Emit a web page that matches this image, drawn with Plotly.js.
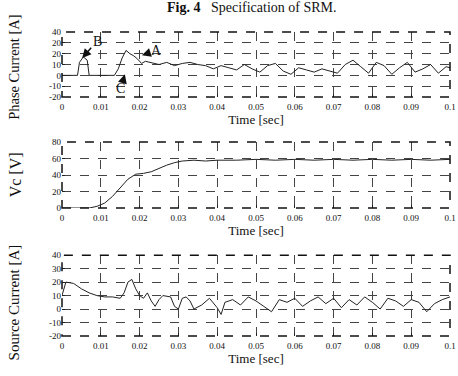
<!DOCTYPE html>
<html><head><meta charset="utf-8">
<script src="https://cdn.plot.ly/plotly-3.0.1.min.js"></script>
<style>html,body{margin:0;padding:0;background:#fff}#c{width:458px;height:376px}</style>
</head><body><div id="c"></div>
<script>
// Time tick labels
const timeTicks = [0,0.01,0.02,0.03,0.04,0.05,0.06,0.07,0.08,0.09,0.1];
const timeTickText = ["0","0.01","0.02","0.03","0.04","0.05","0.06","0.07","0.08","0.09","0.1"];
const currentTicks = [-20,-10,0,10,20,30,40];
const phaseTickText = ["-20","-10","0","10","20","20","40"];
const sourceTickText = ["-20","-10","0","10","20","30","40"];
const vcTicks = [0,20,40,60,80];

// Phase current [A]
const tPhase = [0,0.004,0.0045,0.0055,0.0065,0.007,0.0135,0.0145,0.0155,0.0165,0.0175,0.0185,0.0195,0.0205,0.0215,0.023,
 0.025,0.027,0.029,0.031,0.033,0.035,0.037,0.039,0.041,0.043,0.045,0.047,0.049,0.051,0.053,0.055,0.057,0.059,0.061,0.063,
 0.065,0.067,0.069,0.071,0.073,0.075,0.077,0.079,0.081,0.083,0.085,0.087,0.089,0.091,0.093,0.095,0.097,0.099,0.1];
const iPhase = [0,0,12,17,14,0,0,6,16,23,20,18,15,11,13,12,
 10,12,9,11,12,10,9,6,9,7,5,10,6,3,9,11,4,1,7,5,
 3,6,4,2,10,14,8,2,12,9,1,7,12,3,6,10,2,8,7];

// Capacitor voltage Vc [V]
const tVc = [0,0.007,0.009,0.011,0.013,0.015,0.017,0.019,0.021,0.023,0.025,0.027,0.029,0.031,0.034,0.037,0.04,0.045,0.05,0.055,0.06,0.065,0.07,0.075,0.08,0.085,0.09,0.095,0.1];
const vc = [0,0,2,6,14,24,35,41,42,44,48,52,55,57,58,57,58,58,59,58,59,58,59,58,59,58,59,58,59];

// Source current [A]
const tSrc = [0,0.001,0.003,0.005,0.007,0.009,0.011,0.013,0.015,
 0.016,0.017,0.018,0.019,0.02,0.021,0.022,0.023,0.024,0.025,0.026,
 0.028,0.029,0.030,0.031,0.032,0.033,0.034,
 0.036,0.038,0.040,0.041,0.042,
 0.044,0.046,0.048,0.050,0.052,0.054,0.056,0.058,0.060,0.062,0.064,0.066,0.068,0.070,0.072,0.074,0.076,0.078,0.080,0.082,0.084,0.086,0.088,0.090,0.092,0.094,0.096,0.098,0.1];
const iSrc = [10,20,19,15,12,10,9,9,8,
 12,20,22,15,10,8,12,6,2,7,10,
 9,2,0,8,9,6,0,
 3,8,1,-4,5,
 7,3,9,6,2,-2,7,5,8,2,6,9,4,8,1,7,3,9,5,0,8,6,2,7,5,-2,4,7,9];

const serif = "Liberation Serif, Times New Roman, serif";
const lineStyle = {color:"#222", width:1};

const traces = [
 {x:tPhase, y:iPhase, xaxis:"x", yaxis:"y", mode:"lines", line:lineStyle, showlegend:false},
 {x:tVc, y:vc, xaxis:"x2", yaxis:"y2", mode:"lines", line:lineStyle, showlegend:false},
 {x:tSrc, y:iSrc, xaxis:"x3", yaxis:"y3", mode:"lines", line:lineStyle, showlegend:false}
];

function xax(anchor){
 return {anchor:anchor, range:[0,0.1], tickvals:timeTicks, ticktext:timeTickText,
  showgrid:true, gridcolor:"#444", griddash:"dash", gridwidth:1, zeroline:false,
  ticks:"inside", ticklen:3, tickcolor:"#222", showline:false, ticklabelstandoff:3,
  tickfont:{family:serif, size:9, color:"#111"},
  title:{text:"Time [sec]", font:{family:serif, size:13, color:"#111"}, standoff:2}};
}
function yax(anchor, dom, range, tv, tt){
 return {anchor:anchor, domain:dom, range:range, tickvals:tv, ticktext:tt,
  showgrid:true, gridcolor:"#444", griddash:"dash", gridwidth:1, zeroline:false,
  ticks:"inside", ticklen:3, tickcolor:"#222", showline:false,
  tickfont:{family:serif, size:9, color:"#111"}};
}

const frame = (xr, yr) => ({type:"rect", xref:xr+" domain", yref:yr+" domain", x0:0, x1:1, y0:0, y1:1,
  line:{color:"#111", width:1.5, dash:"dash"}});

const arrowAnn = (txt, x, y, ax, ay) => ({x:x, y:y, xref:"x", yref:"y", text:txt, showarrow:true,
  arrowhead:2, arrowsize:1.2, arrowwidth:1.5, arrowcolor:"#111", ax:ax, ay:ay, standoff:0,
  font:{family:serif, size:14, color:"#111"}});

const layout = {
 width:458, height:376, margin:{l:62, r:8, t:32, b:40},
 paper_bgcolor:"#fff", plot_bgcolor:"#fff",
 xaxis:xax("y"), yaxis:yax("x",[0.786,1],[-20,40],currentTicks,phaseTickText),
 xaxis2:xax("y2"), yaxis2:yax("x2",[0.421,0.638],[0,80],vcTicks,vcTicks.map(String)),
 xaxis3:xax("y3"), yaxis3:yax("x3",[0,0.266],[-20,40],currentTicks,sourceTickText),
 shapes:[frame("x","y"), frame("x2","y2"), frame("x3","y3")],
 annotations:[
  {xref:"paper", yref:"paper", x:0.49, y:1.079, xanchor:"center", yanchor:"middle", showarrow:false,
   text:"<b>Fig. 4</b>   Specification of SRM.", font:{family:serif, size:14, color:"#111"}},
  {xref:"paper", yref:"paper", x:-0.124, y:0.885, textangle:-90, showarrow:false, xanchor:"center", yanchor:"middle",
   text:"Phase Current [A]", font:{family:serif, size:14.5, color:"#111"}},
  {xref:"paper", yref:"paper", x:-0.12, y:0.53, textangle:-90, showarrow:false, xanchor:"center", yanchor:"middle",
   text:"Vc [V]", font:{family:serif, size:16, color:"#111"}},
  {xref:"paper", yref:"paper", x:-0.124, y:0.11, textangle:-90, showarrow:false, xanchor:"center", yanchor:"middle",
   text:"Source Current [A]", font:{family:serif, size:15, color:"#111"}},
  arrowAnn("B", 0.0052, 16, 15, -17),
  arrowAnn("A", 0.0206, 18.5, 15, -5),
  arrowAnn("C", 0.0162, 1, -4, 14)
 ]
};
Plotly.newPlot("c", traces, layout, {displayModeBar:false, staticPlot:true});
</script></body></html>
